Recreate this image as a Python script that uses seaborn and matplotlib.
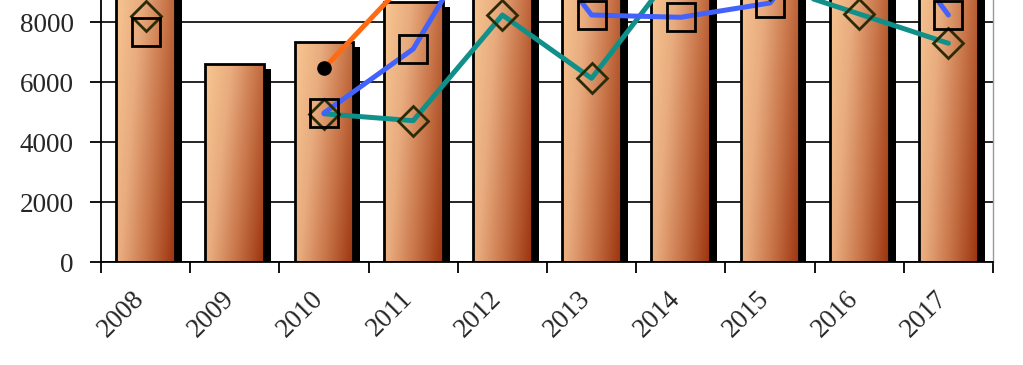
import numpy as np
import matplotlib
matplotlib.use('Agg')
import matplotlib.pyplot as plt
import matplotlib.transforms as mtransforms
from matplotlib.colors import LinearSegmentedColormap
from matplotlib.patches import Rectangle
import seaborn as sns

years = ['2008', '2009', '2010', '2011', '2012', '2013', '2014', '2015', '2016', '2017']
# bar values (tops above 8743 are cut off in the picture, so those are guesses)
bar_vals = [9400, 6610, 7333, 8687, 9800, 10100, 9700, 10300, 10600, 10900]
orange_vals = [np.nan, np.nan, 6467, 9620, 10400, 11200, 10800, 11500, 12000, 11700]
blue_vals = [7670, np.nan, 4977, 7110, 12100, 8243, 8167, 8643, 12300, 8243]
teal_vals = [8210, np.nan, 4950, 4720, 8243, 6133, 9990, 9250, 8277, 7300]
y_ticks = [0, 2000, 4000, 6000, 8000]

sns.set_style('white')
plt.rcParams['font.family'] = ['Liberation Serif', 'DejaVu Serif']

fig = plt.figure(figsize=(10.23, 3.65), dpi=100)
ax = fig.add_axes([101 / 1023, 102.7 / 365, 892 / 1023, 262.3 / 365])

sns.barplot(x=years, y=bar_vals, width=0.66, color='#e8a878', edgecolor='black',
            linewidth=2.0, ax=ax, zorder=3)

cmap = LinearSegmentedColormap.from_list('copper_bar', ['#f8c792', '#e8ab7e', '#c67246', '#9c3410'])
gx, gy = np.meshgrid(np.linspace(0, 1, 60), np.linspace(0, 1, 120))
grad = 0.72 * gx + 0.28 * gy  # light top-left, dark bottom-right
shadow_tr = ax.transData + mtransforms.ScaledTranslation(7 / 100, -5 / 100, fig.dpi_scale_trans)

for p in list(ax.patches):
    x0, w, h = p.get_x(), p.get_width(), p.get_height()
    p.set_facecolor('none')
    im = ax.imshow(grad, cmap=cmap, extent=[x0, x0 + w, 0, h], origin='upper',
                   aspect='auto', zorder=2, interpolation='bilinear')
    im.set_clip_path(p)
    sh = Rectangle((x0, 0), w, h, facecolor='black', edgecolor='none',
                   transform=shadow_tr, zorder=1)
    ax.add_patch(sh)

pos = np.arange(len(years))
ax.plot(pos, orange_vals, color='#ff6a12', lw=3.6, zorder=4, solid_capstyle='round')
ax.plot(pos[2], orange_vals[2], 'o', color='black', ms=9.5, zorder=7)
ax.plot(pos, teal_vals, color='#11908a', lw=3.6, zorder=5, solid_capstyle='round')
ax.plot(pos, teal_vals, 'D', ms=15.5, mfc='none', mec='#2b2b05', mew=2.0, zorder=7)
ax.plot(pos, blue_vals, color='#4262fb', lw=3.6, zorder=6, solid_capstyle='round')
ax.plot(pos, blue_vals, 's', ms=20, mfc='none', mec='black', mew=2.0, zorder=7)

ax.set_xlim(-0.5, len(years) - 0.5)
ax.set_ylim(0, 8743)
ax.set_yticks(y_ticks)
ax.yaxis.grid(True, color='black', lw=1.2)
ax.set_axisbelow(True)

ax.set_xticks(pos)
ax.set_xticks(np.arange(-0.5, len(years)), minor=True)
ax.tick_params(axis='x', which='major', length=0, pad=17)
ax.tick_params(axis='x', which='minor', length=8, width=1.3, color='black', bottom=True)
ax.tick_params(axis='y', length=8, width=1.3, color='black', left=True, pad=11.5, labelsize=19.5)
off = mtransforms.ScaledTranslation(4 / 100, 0, fig.dpi_scale_trans)
for lab in ax.get_xticklabels():
    lab.set_rotation(45)
    lab.set_ha('right')
    lab.set_fontsize(19.5)
    lab.set_transform(lab.get_transform() + off)

ax.set_xlabel('')
ax.set_ylabel('')
ax.spines['top'].set_visible(False)
ax.spines['left'].set_color('black')
ax.spines['left'].set_linewidth(1.3)
ax.spines['bottom'].set_color('black')
ax.spines['bottom'].set_linewidth(1.3)
ax.spines['right'].set_color('#999999')
ax.spines['right'].set_linewidth(1.0)

fig.savefig('out.png', dpi=100)
